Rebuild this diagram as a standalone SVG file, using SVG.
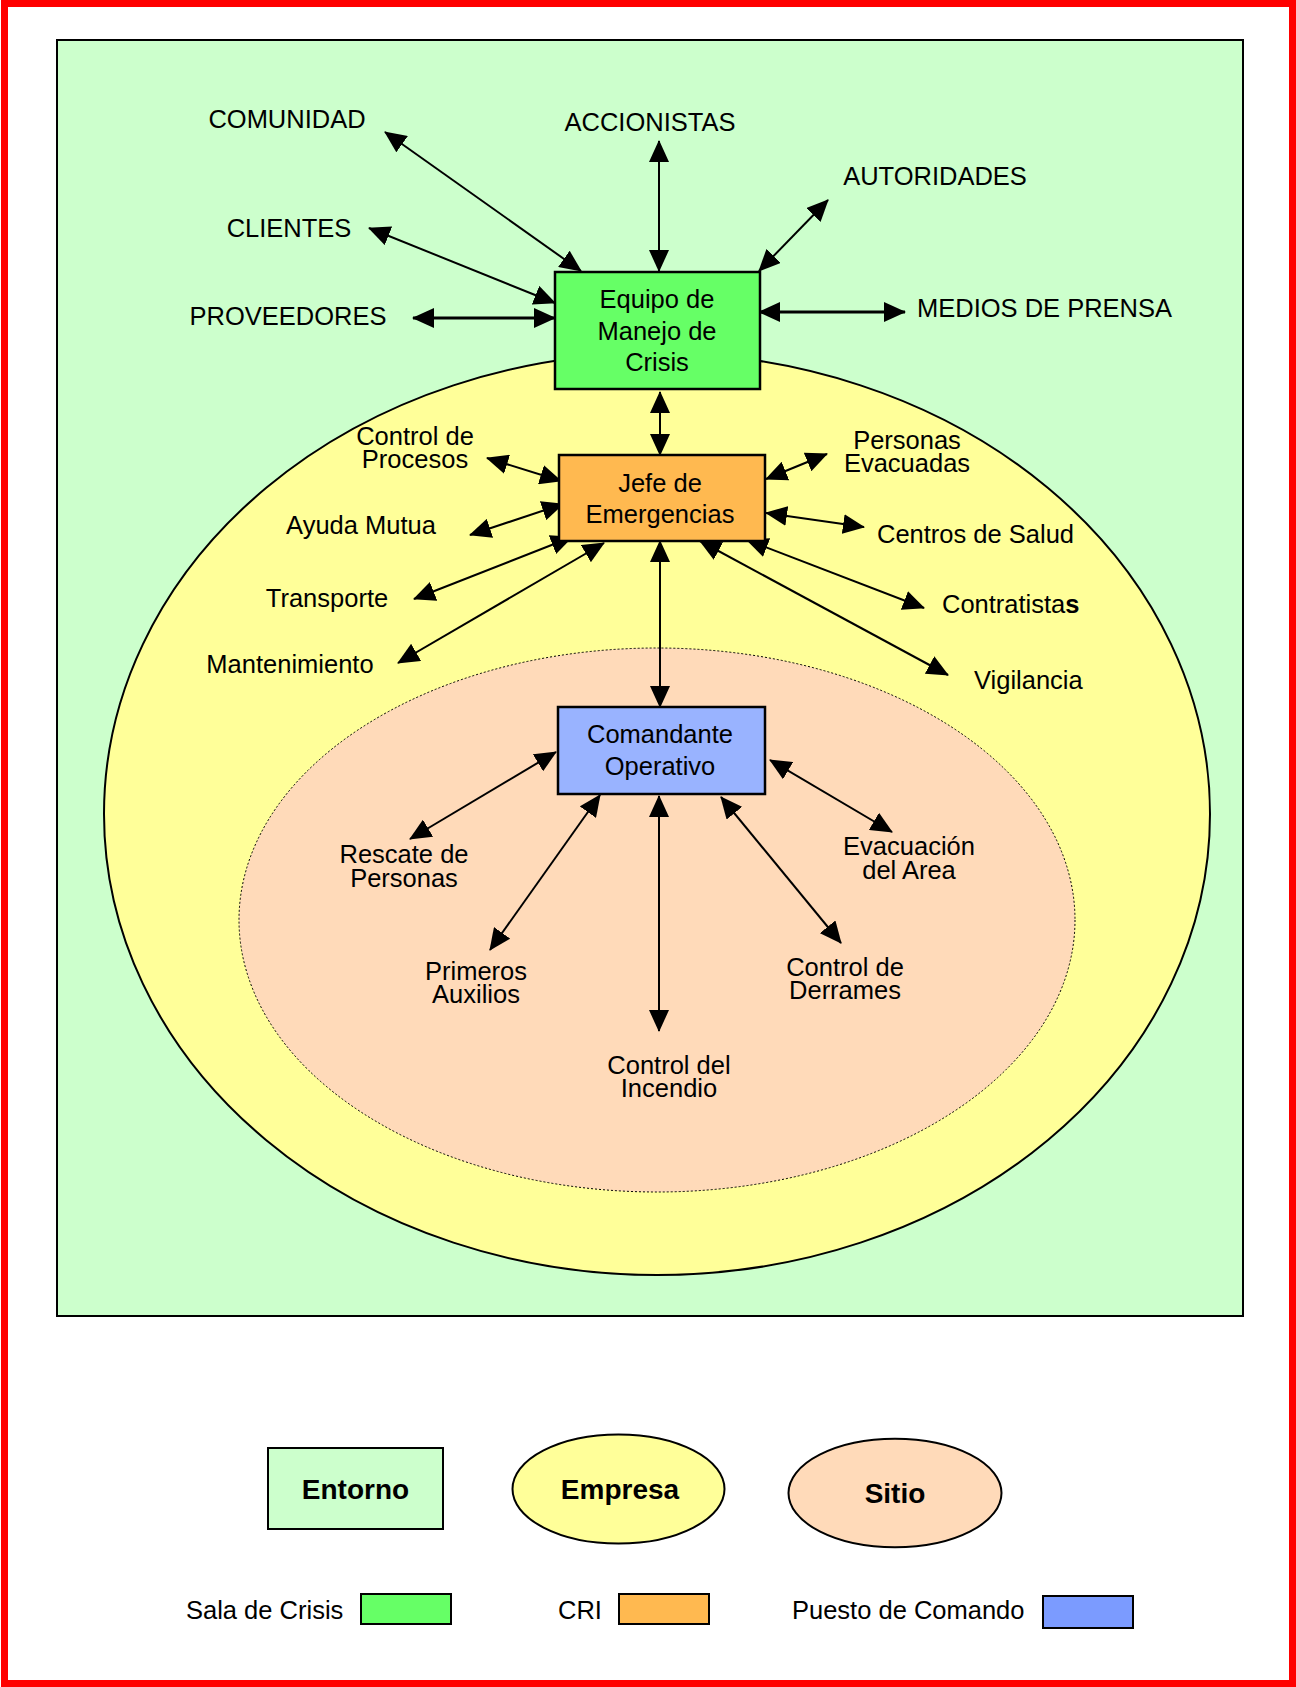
<svg xmlns="http://www.w3.org/2000/svg" width="1296" height="1687" viewBox="0 0 1296 1687">
<style>
text{font-family:"Liberation Sans",Arial,sans-serif;font-size:25.5px;fill:#000}
.c{text-anchor:middle}
.b{font-weight:bold;font-size:28px}
.ln{stroke:#000;stroke-width:2;fill:none;marker-start:url(#ah);marker-end:url(#ah)}
.thick{stroke-width:3}
.box{stroke:#000;stroke-width:2.5}
</style>
<defs>
<marker id="ah" viewBox="0 0 22 20" markerWidth="22" markerHeight="20" refX="21" refY="10" orient="auto-start-reverse" markerUnits="userSpaceOnUse">
<path d="M0,0 L22,10 L0,20 z" fill="#000"/>
</marker>
</defs>
<rect x="0" y="0" width="1296" height="1687" fill="#fff"/>
<rect x="4.5" y="3.5" width="1288" height="1680" fill="none" stroke="#ff0000" stroke-width="7"/>

<g id="entorno">
<rect x="57" y="40" width="1186" height="1276" fill="#ccffcc" stroke="#000" stroke-width="2"/>
</g>
<g id="empresa">
<ellipse cx="657" cy="814" rx="553" ry="461" fill="#ffff99" stroke="#000" stroke-width="2"/>
</g>
<g id="sitio">
<ellipse cx="657" cy="920" rx="418" ry="272" fill="#ffdab9" stroke="#000" stroke-width="1" stroke-dasharray="2,2"/>
</g>

<g id="connectors">
<line class="ln" x1="581" y1="271" x2="385" y2="132"/>
<line class="ln" x1="659" y1="271" x2="659" y2="141"/>
<line class="ln" x1="759" y1="271" x2="828" y2="200"/>
<line class="ln" x1="555" y1="303" x2="369" y2="228"/>
<line class="ln thick" x1="555" y1="318" x2="413" y2="318"/>
<line class="ln thick" x1="759" y1="312" x2="905" y2="312"/>
<line class="ln" x1="660" y1="392" x2="660" y2="455"/>
<line class="ln" x1="561" y1="481" x2="487" y2="458"/>
<line class="ln" x1="563" y1="504" x2="470" y2="535"/>
<line class="ln" x1="572" y1="537" x2="414" y2="599"/>
<line class="ln" x1="604" y1="543" x2="398" y2="663"/>
<line class="ln" x1="766" y1="479" x2="827" y2="454"/>
<line class="ln" x1="766" y1="513" x2="864" y2="527"/>
<line class="ln" x1="747" y1="540" x2="924" y2="608"/>
<line class="ln" x1="700" y1="541" x2="948" y2="675"/>
<line class="ln" x1="660" y1="541" x2="660" y2="707"/>
<line class="ln" x1="556" y1="752" x2="410" y2="839"/>
<line class="ln" x1="600" y1="795" x2="490" y2="950"/>
<line class="ln" x1="659" y1="796" x2="659" y2="1031"/>
<line class="ln" x1="721" y1="797" x2="841" y2="943"/>
<line class="ln" x1="770" y1="760" x2="892" y2="832"/>
</g>

<g id="equipo">
<rect class="box" x="555" y="272" width="205" height="117" fill="#66ff66"/>
<text class="c" x="657" y="308">Equipo de</text>
<text class="c" x="657" y="340">Manejo de</text>
<text class="c" x="657" y="371">Crisis</text>
</g>
<g id="jefe">
<rect class="box" x="559" y="455" width="206" height="86" fill="#ffb950"/>
<text class="c" x="660" y="492">Jefe de</text>
<text class="c" x="660" y="523">Emergencias</text>
</g>
<g id="comandante">
<rect class="box" x="558" y="707" width="207" height="87" fill="#99b3ff"/>
<text class="c" x="660" y="743">Comandante</text>
<text class="c" x="660" y="775">Operativo</text>
</g>

<g id="comunidad"><text class="c" x="287" y="128">COMUNIDAD</text></g>
<g id="accionistas"><text class="c" x="650" y="131">ACCIONISTAS</text></g>
<g id="autoridades"><text class="c" x="935" y="185">AUTORIDADES</text></g>
<g id="clientes"><text class="c" x="289" y="237">CLIENTES</text></g>
<g id="proveedores"><text class="c" x="288" y="325">PROVEEDORES</text></g>
<g id="medios"><text x="917" y="317">MEDIOS DE PRENSA</text></g>

<g id="control-procesos"><text class="c" x="415" y="445">Control de</text><text class="c" x="415" y="468">Procesos</text></g>
<g id="ayuda-mutua"><text class="c" x="361" y="534">Ayuda Mutua</text></g>
<g id="transporte"><text class="c" x="327" y="607">Transporte</text></g>
<g id="mantenimiento"><text class="c" x="290" y="673">Mantenimiento</text></g>
<g id="personas-evacuadas"><text class="c" x="907" y="449">Personas</text><text class="c" x="907" y="472">Evacuadas</text></g>
<g id="centros-salud"><text x="877" y="543">Centros de Salud</text></g>
<g id="contratistas"><text x="942" y="613">Contratista<tspan font-weight="bold">s</tspan></text></g>
<g id="vigilancia"><text x="974" y="689">Vigilancia</text></g>

<g id="rescate"><text class="c" x="404" y="863">Rescate de</text><text class="c" x="404" y="887">Personas</text></g>
<g id="primeros"><text class="c" x="476" y="980">Primeros</text><text class="c" x="476" y="1003">Auxilios</text></g>
<g id="incendio"><text class="c" x="669" y="1074">Control del</text><text class="c" x="669" y="1097">Incendio</text></g>
<g id="derrames"><text class="c" x="845" y="976">Control de</text><text class="c" x="845" y="999">Derrames</text></g>
<g id="evacuacion"><text class="c" x="909" y="855">Evacuación</text><text class="c" x="909" y="879">del Area</text></g>

<g id="legend-entorno">
<rect x="268" y="1448" width="175" height="81" fill="#ccffcc" stroke="#000" stroke-width="2"/>
<text class="c b" x="355.5" y="1499">Entorno</text>
</g>
<g id="legend-empresa">
<ellipse cx="618.5" cy="1489" rx="106" ry="54.5" fill="#ffff99" stroke="#000" stroke-width="2"/>
<text class="c b" x="620" y="1499">Empresa</text>
</g>
<g id="legend-sitio">
<ellipse cx="895" cy="1493" rx="106.5" ry="54.3" fill="#ffdab9" stroke="#000" stroke-width="2"/>
<text class="c b" x="895" y="1503">Sitio</text>
</g>
<g id="legend-sala">
<text x="186" y="1619">Sala de Crisis</text>
<rect x="361" y="1594" width="90" height="30" fill="#66ff66" stroke="#000" stroke-width="2"/>
</g>
<g id="legend-cri">
<text x="558" y="1619">CRI</text>
<rect x="619" y="1594" width="90" height="30" fill="#ffb950" stroke="#000" stroke-width="2"/>
</g>
<g id="legend-puesto">
<text x="792" y="1619">Puesto de Comando</text>
<rect x="1043" y="1596" width="90" height="32" fill="#7b9bff" stroke="#000" stroke-width="2"/>
</g>
</svg>
